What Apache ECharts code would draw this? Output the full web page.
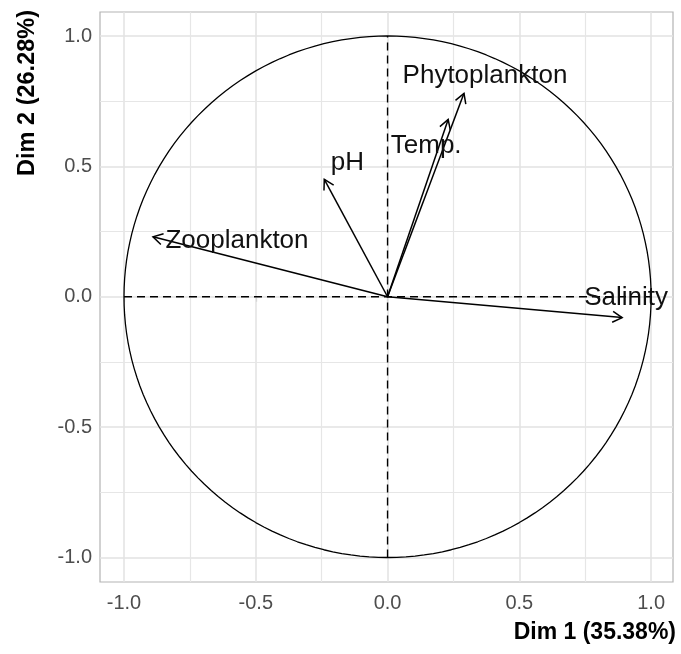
<!DOCTYPE html>
<html>
<head>
<meta charset="utf-8">
<script src="https://cdn.jsdelivr.net/npm/echarts@6/dist/echarts.min.js"></script>
<style>
  html, body { margin: 0; padding: 0; background: #fff; }
  #chart { width: 681px; height: 654px; }
</style>
</head>
<body>
<div id="chart"></div>
<script>
  // variables and their coordinates on Dim 1 / Dim 2
  var varNames = ['Salinity', 'Zooplankton', 'pH', 'Temp.', 'Phytoplankton'];
  var dim1 = [0.89, -0.89, -0.24, 0.23, 0.29];
  var dim2 = [-0.08, 0.23, 0.45, 0.68, 0.78];
  // tick labels on both axes
  var tickValues = [-1, -0.5, 0, 0.5, 1];
  var minorValues = [-0.75, -0.25, 0.25, 0.75];

  // pixel offsets of the text labels from the arrow tips (as in the reference)
  var labelOffsets = [[4, -20], [84, 4], [23, -17], [-22, 26], [21, -18]];

  // unit circle of correlations
  var circlePts = [];
  for (var d = 0; d <= 360; d += 2) {
    var r = d * Math.PI / 180;
    circlePts.push([Math.cos(r), Math.sin(r)]);
  }

  var FONT = '"Liberation Sans", Arial, sans-serif';

  var gridLines = [];
  tickValues.forEach(function (v) {
    gridLines.push({ xAxis: v, lineStyle: { color: '#e2e2e2', width: 1.5, type: 'solid' } });
    gridLines.push({ yAxis: v, lineStyle: { color: '#e2e2e2', width: 1.5, type: 'solid' } });
  });
  minorValues.forEach(function (v) {
    gridLines.push({ xAxis: v, lineStyle: { color: '#e6e6e6', width: 1.2, type: 'solid' } });
    gridLines.push({ yAxis: v, lineStyle: { color: '#e6e6e6', width: 1.2, type: 'solid' } });
  });

  var myChart = echarts.init(document.getElementById('chart'));
  myChart.setOption({
    animation: false,
    grid: {
      left: 100, right: 8, top: 12, bottom: 72,
      show: true, borderColor: '#b3b3b3', borderWidth: 1.2, backgroundColor: '#fff'
    },
    xAxis: {
      type: 'value', min: -1.091, max: 1.083,
      axisLine: { show: false },
      splitLine: { show: false },
      axisTick: { show: true, customValues: tickValues, length: 5, lineStyle: { color: '#b3b3b3', width: 1.2 } },
      axisLabel: {
        customValues: tickValues, margin: 11,
        color: '#4d4d4d', fontSize: 20, fontFamily: FONT,
        formatter: function (v) { return v.toFixed(1); }
      }
    },
    yAxis: {
      type: 'value', min: -1.094, max: 1.092,
      axisLine: { show: false },
      splitLine: { show: false },
      axisTick: { show: true, customValues: tickValues, length: 5, lineStyle: { color: '#b3b3b3', width: 1.2 } },
      axisLabel: {
        customValues: tickValues, margin: 8,
        color: '#4d4d4d', fontSize: 20, fontFamily: FONT,
        formatter: function (v) { return v.toFixed(1); }
      }
    },
    graphic: [
      {
        type: 'text', right: 5, top: 621,
        style: { text: 'Dim 1 (35.38%)', font: 'bold 23px ' + FONT, fill: '#000' }
      },
      {
        type: 'text', x: 28, y: 10, rotation: Math.PI / 2,
        style: {
          text: 'Dim 2 (26.28%)', font: 'bold 23.5px ' + FONT, fill: '#000',
          align: 'right', verticalAlign: 'middle'
        }
      }
    ],
    series: [
      {
        // grid lines drawn in data space, kept under everything else
        type: 'line', data: [], z: 1, silent: true,
        markLine: { z: 1, silent: true, symbol: 'none', label: { show: false }, data: gridLines, animation: false }
      },
      {
        type: 'line', data: [[-1, 0], [1, 0]], z: 3, symbol: 'none', silent: true,
        lineStyle: { color: '#000', width: 1.4, type: [8, 5] }
      },
      {
        type: 'line', data: [[0, -1], [0, 1]], z: 3, symbol: 'none', silent: true,
        lineStyle: { color: '#000', width: 1.4, type: [8, 5] }
      },
      {
        type: 'line', data: circlePts, z: 3, symbol: 'none', silent: true,
        lineStyle: { color: '#000', width: 1.3 }
      },
      {
        type: 'custom', z: 4, silent: true,
        data: dim1.map(function (x, i) { return [x, dim2[i]]; }),
        renderItem: function (params, api) {
          var i = params.dataIndex;
          var o = api.coord([0, 0]);
          var p = api.coord([api.value(0), api.value(1)]);
          var ang = Math.atan2(p[1] - o[1], p[0] - o[0]);
          var L = 11, a = Math.PI / 6;
          var h1 = [p[0] - L * Math.cos(ang - a), p[1] - L * Math.sin(ang - a)];
          var h2 = [p[0] - L * Math.cos(ang + a), p[1] - L * Math.sin(ang + a)];
          var off = labelOffsets[i];
          return {
            type: 'group',
            children: [
              { type: 'line', shape: { x1: o[0], y1: o[1], x2: p[0], y2: p[1] },
                style: { stroke: '#000', lineWidth: 1.5 } },
              { type: 'polyline', shape: { points: [h1, p, h2] },
                style: { stroke: '#000', lineWidth: 1.5, fill: null } },
              { type: 'text', x: p[0] + off[0], y: p[1] + off[1], z2: 10,
                style: { text: varNames[i], font: '26px ' + FONT, fill: '#111',
                  align: 'center', verticalAlign: 'middle' } }
            ]
          };
        }
      }
    ]
  });
</script>
</body>
</html>
